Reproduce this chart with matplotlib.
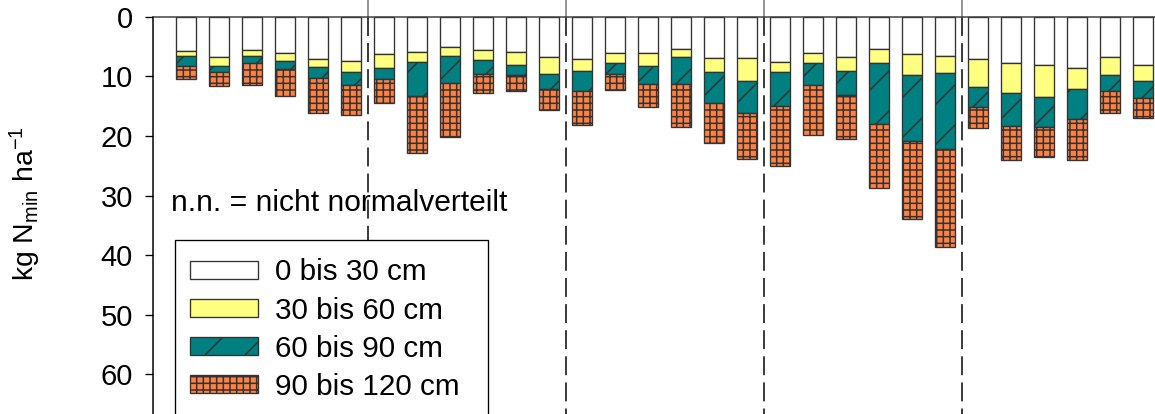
import numpy as np
import matplotlib
matplotlib.use("Agg")
import matplotlib.pyplot as plt
from matplotlib.patches import Rectangle

plt.rcParams['font.family'] = ['Liberation Sans', 'DejaVu Sans']
plt.rcParams['mathtext.fontset'] = 'custom'
plt.rcParams['mathtext.rm'] = 'Liberation Sans'
plt.rcParams['mathtext.it'] = 'Liberation Sans:italic'
plt.rcParams['hatch.linewidth'] = 0.9

# N-min per soil layer (kg/ha), 5 groups x 6 plots
depth_0_30 = [5.7, 6.8, 5.6, 6.0, 7.0, 7.4,
              6.3, 5.9, 5.1, 5.6, 5.9, 6.7,
              7.0, 6.0, 6.1, 5.3, 6.9, 6.9,
              7.6, 6.0, 6.7, 5.3, 6.2, 6.5,
              7.0, 7.8, 8.0, 8.5, 6.8, 8.0]
depth_30_60 = [0.9, 1.4, 1.0, 1.4, 1.4, 1.8,
               2.2, 1.7, 1.5, 1.6, 2.1, 2.9,
               2.0, 1.8, 2.2, 1.4, 2.4, 3.8,
               1.7, 1.8, 2.3, 2.5, 3.5, 2.9,
               4.8, 5.0, 5.4, 3.6, 3.0, 2.8]
depth_60_90 = [1.7, 1.1, 1.1, 1.4, 1.8, 2.2,
               2.0, 5.7, 4.5, 2.4, 1.7, 2.5,
               3.5, 1.8, 2.9, 4.6, 5.1, 5.5,
               5.6, 3.7, 4.1, 10.1, 11.2, 12.8,
               3.4, 5.5, 5.1, 5.0, 2.7, 2.8]
depth_90_120 = [2.2, 2.3, 3.7, 4.4, 6.0, 5.0,
                3.9, 9.6, 9.1, 3.2, 2.7, 3.6,
                5.7, 2.7, 3.9, 7.2, 6.8, 7.6,
                10.1, 8.4, 7.4, 10.8, 13.0, 16.5,
                3.5, 5.8, 5.0, 7.0, 3.7, 3.3]

layer_labels = ['0 bis 30 cm', '30 bis 60 cm', '60 bis 90 cm', '90 bis 120 cm']
layer_colors = ['white', '#FFFF80', '#008080', '#FF8040']
layer_hatches = [None, None, '/', '+++']
group_size = 6
yticks = [0, 10, 20, 30, 40, 50, 60]

W, H, DPI = 1155, 414, 120
fig = plt.figure(figsize=(W / DPI, H / DPI), dpi=DPI)
ax = fig.add_axes([153 / W, 0, 1 - 153 / W, 1])

y_top, y_bottom = -2.85, 66.7
x_left, x_right = -1.0, 29.36

x = np.arange(len(depth_0_30))
bottom = np.zeros(len(x))
bars = []
for vals, lab, col, hat in zip([depth_0_30, depth_30_60, depth_60_90, depth_90_120],
                               layer_labels, layer_colors, layer_hatches):
    vals = np.array(vals)
    b = ax.bar(x, vals, bottom=bottom, width=0.6, color=col, edgecolor='#333333',
               linewidth=0.8, hatch=hat, label=lab, zorder=3)
    bars.append(b)
    bottom = bottom + vals

# group separators: solid above zero line, dashed below
for xv in np.arange(group_size - 0.5, len(x) - 1, group_size):
    ax.plot([xv, xv], [y_top, 0], color='#808080', lw=1.0, zorder=2)
    ax.plot([xv, xv], [0, y_bottom], color='black', lw=0.9,
            linestyle=(0, (12.6, 4.8)), zorder=2)

ax.axhline(0, color='#404040', lw=0.9, zorder=4)

ax.set_xlim(x_left, x_right)
ax.set_ylim(y_bottom, y_top)
ax.set_xticks([])
ax.set_yticks(yticks)
ax.tick_params(axis='y', direction='out', length=4.8, width=0.8, pad=7.2,
               labelsize=17.5, colors='black')
for s in ['top', 'right', 'bottom']:
    ax.spines[s].set_visible(False)
ax.spines['left'].set_bounds(0, y_bottom)
ax.spines['left'].set_linewidth(0.9)

ax.text(-0.45, 31.3, 'n.n. = nicht normalverteilt', fontsize=18,
        ha='left', va='center', zorder=5)

fig.text(25 / W, 1 - 204 / H, 'kg N$_{\\mathrm{min}}$ ha$^{\\mathrm{-1}}$',
         rotation=90, ha='center', va='center', fontsize=17)

# legend box runs past the lower edge of the figure
box = Rectangle((175 / W, -10 / H), 313 / W, (414 - 240 + 10) / H,
                transform=fig.transFigure, facecolor='white',
                edgecolor='black', linewidth=0.8, zorder=4)
fig.add_artist(box)

leg = fig.legend(handles=bars, labels=layer_labels, loc='upper left',
                 bbox_to_anchor=(190 / W, 1 - 258.5 / H), borderaxespad=0,
                 fontsize=17.8, frameon=False,
                 handlelength=2.29, handleheight=0.57, handletextpad=0.57,
                 borderpad=0, labelspacing=0.34)
leg.set_zorder(6)

fig.savefig('out.png', dpi=DPI)
